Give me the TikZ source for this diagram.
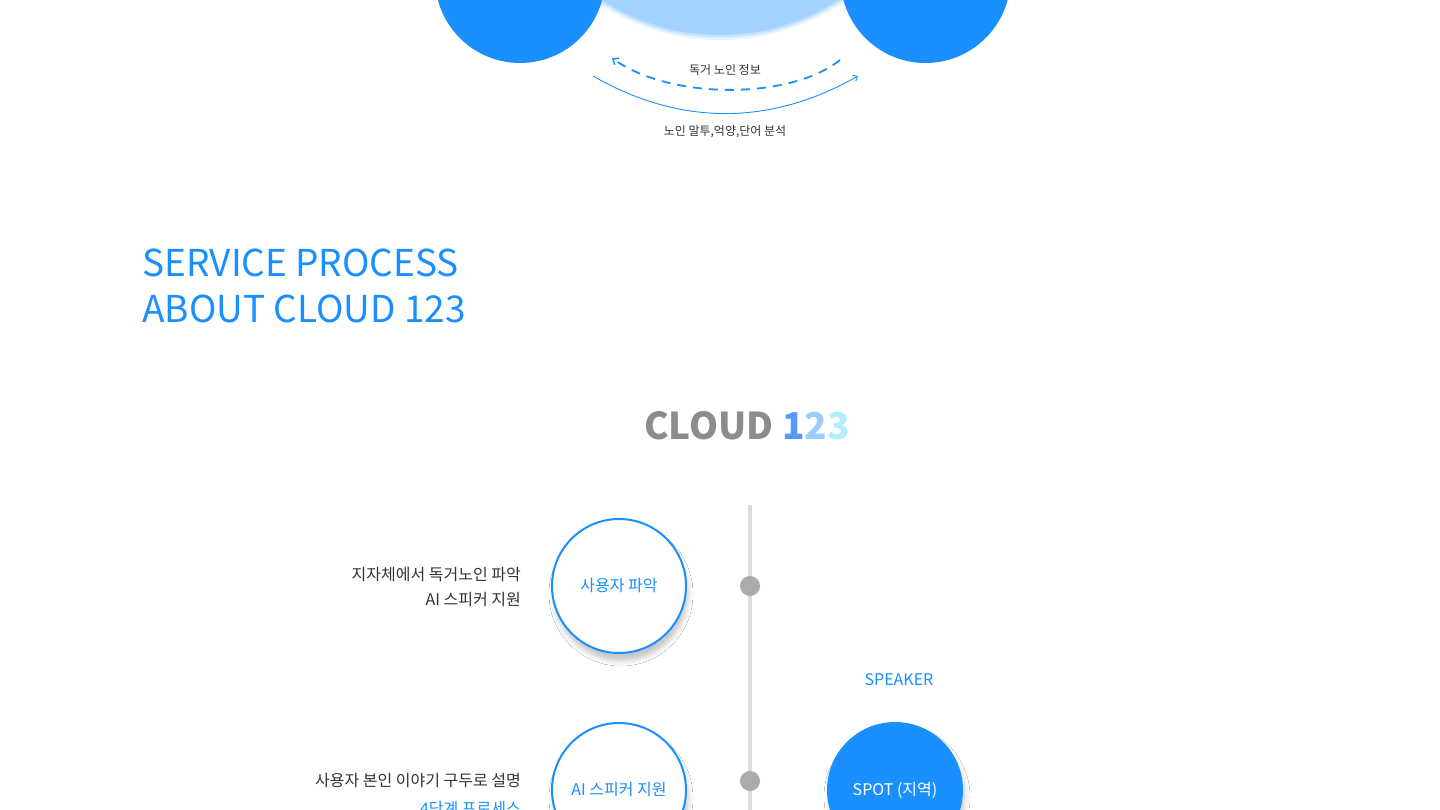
\documentclass[tikz,border=0pt]{standalone}
\usepackage{fontspec}
\setmainfont{Noto Sans CJK KR}
\usetikzlibrary{arrows.meta,shadows.blur}
\definecolor{mainblue}{HTML}{1A8FFF}
\definecolor{lightblue}{HTML}{A3D2FF}
\definecolor{txtdark}{HTML}{333333}
\definecolor{titlegray}{HTML}{8C8C8C}
\definecolor{one}{HTML}{5599FF}
\definecolor{two}{HTML}{99CCFF}
\definecolor{three}{HTML}{B3EEFF}
\definecolor{railgray}{HTML}{DDDDDD}
\definecolor{dotgray}{HTML}{ABABAB}
\tikzset{
  bigdisc/.style={circle, fill=mainblue, inner sep=0pt, minimum size=170pt},
  stepcircle/.style={circle, draw=mainblue, line width=2pt, fill=white, inner sep=0pt, minimum size=134pt,
     text=mainblue, font=\fontsize{16}{20}\selectfont,
     blur shadow={shadow xshift=2pt, shadow yshift=-8pt, shadow blur radius=5pt, shadow opacity=22}},
  spotcircle/.style={circle, fill=mainblue, inner sep=0pt, minimum size=136pt,
     text=white, font=\fontsize{16}{20}\selectfont,
     blur shadow={shadow xshift=2pt, shadow yshift=-7pt, shadow blur radius=5pt, shadow opacity=20}},
  small/.style={font=\fontsize{12}{14}\selectfont, text=txtdark},
  desc/.style={font=\fontsize{16}{25}\selectfont, text=txtdark, align=right, anchor=east, inner sep=0pt},
  dot/.style={circle, fill=dotgray, inner sep=0pt, minimum size=20pt},
}
\begin{document}
\begin{tikzpicture}[x=1pt,y=-1pt]
\useasboundingbox[fill=white] (0,0) rectangle (1440,810);

% top circles
\fill[lightblue, opacity=0.25] (720,-181) circle (221pt);
\fill[lightblue, opacity=0.5] (720,-181) circle (218.5pt);
\fill[lightblue] (720,-181) circle (216pt);
\node[bigdisc] (left) at (520,-22) {};
\node[bigdisc] (right) at (925.5,-22) {};

% arcs
\coordinate (dA) at (840,60);
\coordinate (dB) at (612,58);
\coordinate (sA) at (593,76);
\coordinate (sB) at (858,76);
\draw[mainblue, line width=1.8pt, dash pattern=on 9pt off 7pt, -{Straight Barb[length=5pt,width=8pt,line width=1.5pt]}]
  (dA) .. controls (790,100) and (670,100) .. (dB);
\draw[mainblue, line width=0.9pt, -{Straight Barb[length=4pt,width=7pt]}]
  (sA) .. controls (680,126) and (770,126) .. (sB);
\node[small] (info) at (725,70) {독거 노인 정보};
\node[small] (analysis) at (725,132) {노인 말투,억양,단어 분석};

% heading
\node[anchor=north west, inner sep=0pt, text=mainblue, align=left,
      font=\fontsize{37}{46}\selectfont] (heading) at (142,249) {SERVICE PROCESS\\ABOUT CLOUD 123};

% CLOUD 123
\node[font=\fontsize{37}{44}\bfseries\selectfont, text=titlegray] (brand) at (747,426)
  {CLOUD \textcolor{one}{1}\textcolor{two}{2}\textcolor{three}{3}};

% rail
\coordinate (railtop) at (750,505);
\coordinate (railbot) at (750,815);
\draw[railgray, line width=4pt] (railtop) -- (railbot);
\node[dot] (d1) at (750,586) {};
\node[dot] (d2) at (750,781) {};

% step circles
\node[stepcircle] (c1) at (619,586) {사용자 파악};
\node[stepcircle] (c2) at (619,790) {AI 스피커 지원};
\node[spotcircle] (c3) at (895,790) {SPOT (지역)};
\node[font=\fontsize{16}{20}\selectfont, text=mainblue] (speaker) at (899,680) {SPEAKER};

% descriptions
\node[desc] (t1) at (521,587) {지자체에서 독거노인 파악\\AI 스피커 지원};
\node[desc] (t2) at (521,781) {사용자 본인 이야기 구두로 설명};
\node[desc, text=mainblue, anchor=base east] (t3) at (521,814) {4단계 프로세스};
\end{tikzpicture}
\end{document}
